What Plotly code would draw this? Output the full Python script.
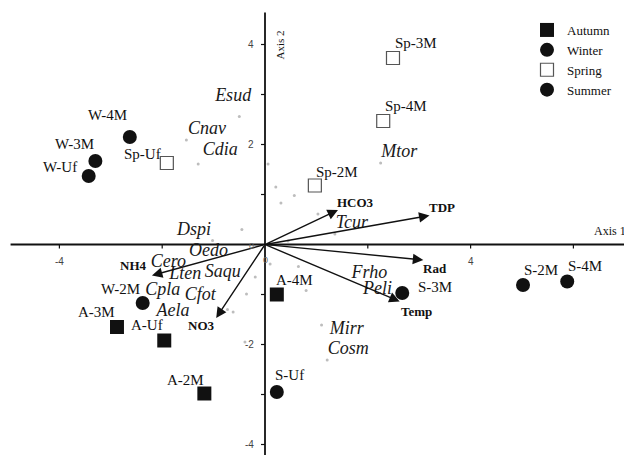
import plotly.graph_objects as go

# ---------------- data ----------------
autumn_names = ["A-4M", "A-3M", "A-Uf", "A-2M"]
autumn_x = [0.23, -2.88, -1.96, -1.18]
autumn_y = [-1.00, -1.65, -1.92, -2.98]

winter_names = ["W-4M", "W-3M", "W-Uf", "W-2M"]
winter_x = [-2.63, -3.30, -3.43, -2.38]
winter_y = [2.15, 1.67, 1.37, -1.17]

spring_names = ["Sp-Uf", "Sp-3M", "Sp-4M", "Sp-2M"]
spring_x = [-1.91, 2.49, 2.30, 0.97]
spring_y = [1.63, 3.73, 2.47, 1.18]

summer_names = ["S-3M", "S-2M", "S-4M", "S-Uf"]
summer_x = [2.67, 5.02, 5.88, 0.23]
summer_y = [-0.97, -0.81, -0.74, -2.95]

species_names = ["Esud", "Cnav", "Cdia", "Mtor", "Tcur", "Dspi", "Oedo", "Cero", "Lten",
                 "Saqu", "Cpla", "Cfot", "Aela", "Frho", "Peli", "Mirr", "Cosm"]
species_x = [-0.62, -1.13, -0.87, 2.61, 1.69, -1.38, -1.10, -1.88, -1.55,
             -0.82, -1.99, -1.26, -1.79, 2.03, 2.19, 1.59, 1.62]
species_y = [2.97, 2.31, 1.89, 1.85, 0.42, 0.29, -0.13, -0.35, -0.59,
             -0.55, -0.91, -1.02, -1.33, -0.57, -0.89, -1.70, -2.10]

# species scores (small grey points)
taxa_x = [-0.50, -1.53, -1.30, 0.06, 0.21, 0.57, 0.31, 1.03, 2.25, -0.45, -1.02, 0.45,
          1.36, 0.10, 0.65, -0.19, -0.36, -0.73, -0.62, 0.80, 1.10, 1.21, -0.39]
taxa_y = [2.56, 2.09, 1.61, 1.61, 1.15, 0.98, 0.83, 0.61, 1.63, 0.30, 0.08, 0.07,
          0.21, -0.39, -0.44, -0.65, -0.99, -1.30, -1.35, -0.92, -1.61, -2.31, -1.95]

env_names = ["HCO3", "TDP", "Rad", "Temp", "NH4", "NO3"]
env_x = [1.42, 3.20, 3.08, 2.62, -2.20, -0.95]
env_y = [0.69, 0.58, -0.31, -1.14, -0.62, -1.47]

xtick_vals = [-4, -2, 2, 4, 6]
xtick_text = ["-4", "", "", "4", ""]
ytick_vals = [4, 3, 2, 1, -1, -2, -3, -4]
ytick_text = ["4", "", "2", "", "", "-2", "", "-4"]

# ---------------- label offsets (pixels: dx right, dy up) ----------------
site_offsets = {
    "A-4M": (18, 15), "A-3M": (-20, 15), "A-Uf": (-17, 16), "A-2M": (-19, 14),
    "W-4M": (-22, 22), "W-3M": (-21, 17), "W-Uf": (-29, 9), "W-2M": (-22, 14),
    "Sp-Uf": (-24, 9), "Sp-3M": (23, 15), "Sp-4M": (23, 15), "Sp-2M": (22, 14),
    "S-3M": (33, 6), "S-2M": (18, 15), "S-4M": (18, 16), "S-Uf": (13, 17),
}
env_offsets = {
    "HCO3": (18, 8), "TDP": (13, 8), "Rad": (12, -8), "Temp": (17, -10),
    "NH4": (-18, 10), "NO3": (-15, -7),
}

SERIF = "Liberation Serif, Times New Roman, serif"
SANS = "Liberation Sans, Arial, sans-serif"
PAGE_PAD = 8               # default body margin of the html page
WIN_W, WIN_H = 632, 455
W, H = WIN_W - PAGE_PAD, WIN_H - PAGE_PAD
OX, OY = 265, 244.5        # origin position in the window
SX, SY = 51.4, 50.0        # pixels per unit
x_range = [(PAGE_PAD - OX) / SX, (WIN_W - OX) / SX]
y_range = [-(WIN_H - OY) / SY, (OY - PAGE_PAD) / SY]


def px_x(p):
    return (p - PAGE_PAD) / W


def px_y(p):
    return 1 - (p - PAGE_PAD) / H


fig = go.Figure()

# axes (drawn through the origin)
fig.add_trace(go.Scatter(x=[-4.95, x_range[1]], y=[0, 0], mode="lines",
                         line=dict(color="#111", width=1.8), showlegend=False, hoverinfo="skip"))
fig.add_trace(go.Scatter(x=[0, 0], y=[y_range[0], 4.64], mode="lines",
                         line=dict(color="#111", width=1.8), showlegend=False, hoverinfo="skip"))

# species small points
fig.add_trace(go.Scatter(x=taxa_x, y=taxa_y, mode="markers",
                         marker=dict(size=3, color="#bdbdbd"), showlegend=False, hoverinfo="skip"))

# species labels
fig.add_trace(go.Scatter(x=species_x, y=species_y, mode="text", text=species_names,
                         textfont=dict(family=SERIF, size=18, color="#1a1a1a", style="italic"),
                         showlegend=False, hoverinfo="skip"))

# site markers
fig.add_trace(go.Scatter(x=autumn_x, y=autumn_y, mode="markers", name="Autumn",
                         marker=dict(symbol="square", size=14, color="#111", line=dict(width=0))))
fig.add_trace(go.Scatter(x=winter_x, y=winter_y, mode="markers", name="Winter",
                         marker=dict(symbol="circle", size=14, color="#111", line=dict(width=0))))
fig.add_trace(go.Scatter(x=spring_x, y=spring_y, mode="markers", name="Spring",
                         marker=dict(symbol="square-open", size=13, color="#555", line=dict(width=1.2))))
fig.add_trace(go.Scatter(x=summer_x, y=summer_y, mode="markers", name="Summer",
                         marker=dict(symbol="circle", size=14, color="#111", line=dict(width=0))))

annotations = []
shapes = []

# site labels
for names, xs, ys in [(autumn_names, autumn_x, autumn_y), (winter_names, winter_x, winter_y),
                      (spring_names, spring_x, spring_y), (summer_names, summer_x, summer_y)]:
    for n, xv, yv in zip(names, xs, ys):
        dx, dy = site_offsets[n]
        annotations.append(dict(x=xv, y=yv, text=n, showarrow=False, xshift=dx, yshift=dy,
                                font=dict(family=SERIF, size=15, color="#111")))

# environmental arrows + labels
for n, xv, yv in zip(env_names, env_x, env_y):
    annotations.append(dict(x=xv, y=yv, ax=0, ay=0, axref="x", ayref="y", xref="x", yref="y",
                            text="", showarrow=True, arrowhead=2, arrowsize=1.5,
                            arrowwidth=1.4, arrowcolor="#111", standoff=0, startstandoff=0))
    dx, dy = env_offsets[n]
    annotations.append(dict(x=xv, y=yv, text="<b>%s</b>" % n, showarrow=False, xshift=dx, yshift=dy,
                            font=dict(family=SERIF, size=13, color="#111")))

# ticks
for t, lab in zip(xtick_vals, xtick_text):
    shapes.append(dict(type="line", xref="x", yref="y", x0=t, x1=t, ysizemode="pixel", yanchor=0,
                       y0=-4, y1=0, line=dict(color="#111", width=1.2)))
    if lab:
        annotations.append(dict(x=t, y=0, text=lab, showarrow=False, yshift=-17,
                                font=dict(family=SANS, size=10, color="#444")))
for t, lab in zip(ytick_vals, ytick_text):
    shapes.append(dict(type="line", xref="x", yref="y", y0=t, y1=t, xsizemode="pixel", xanchor=0,
                       x0=-4, x1=0, line=dict(color="#111", width=1.2)))
    if lab:
        annotations.append(dict(x=0, y=t, text=lab, showarrow=False, xanchor="right", xshift=-9,
                                font=dict(family=SANS, size=10, color="#444")))
# origin labels
annotations.append(dict(x=0, y=0, text="0", showarrow=False, xanchor="right", xshift=-9, yshift=-1,
                        font=dict(family=SANS, size=9, color="#666")))
annotations.append(dict(x=0, y=0, text="0", showarrow=False, yshift=-15,
                        font=dict(family=SANS, size=9, color="#666")))

# axis titles
annotations.append(dict(x=0, y=px_y(29), xref="x", yref="paper", text="Axis 2", showarrow=False,
                        textangle=-90, xshift=14, font=dict(family=SERIF, size=11, color="#111")))
annotations.append(dict(x=px_x(610), y=0, xref="paper", yref="y", text="Axis 1", showarrow=False,
                        xanchor="center", yshift=14, font=dict(family=SERIF, size=12, color="#111")))

fig.update_layout(
    width=W, height=H,
    margin=dict(l=0, r=0, t=0, b=0),
    paper_bgcolor="white", plot_bgcolor="white",
    xaxis=dict(range=x_range, visible=False, fixedrange=True),
    yaxis=dict(range=y_range, visible=False, fixedrange=True),
    showlegend=True,
    legend=dict(x=px_x(527), y=px_y(15), xanchor="left", yanchor="top",
                bgcolor="rgba(0,0,0,0)", font=dict(family=SERIF, size=13, color="#111"),
                tracegroupgap=0, itemwidth=30),
    annotations=annotations,
    shapes=shapes,
)

fig.write_html("out.html")
